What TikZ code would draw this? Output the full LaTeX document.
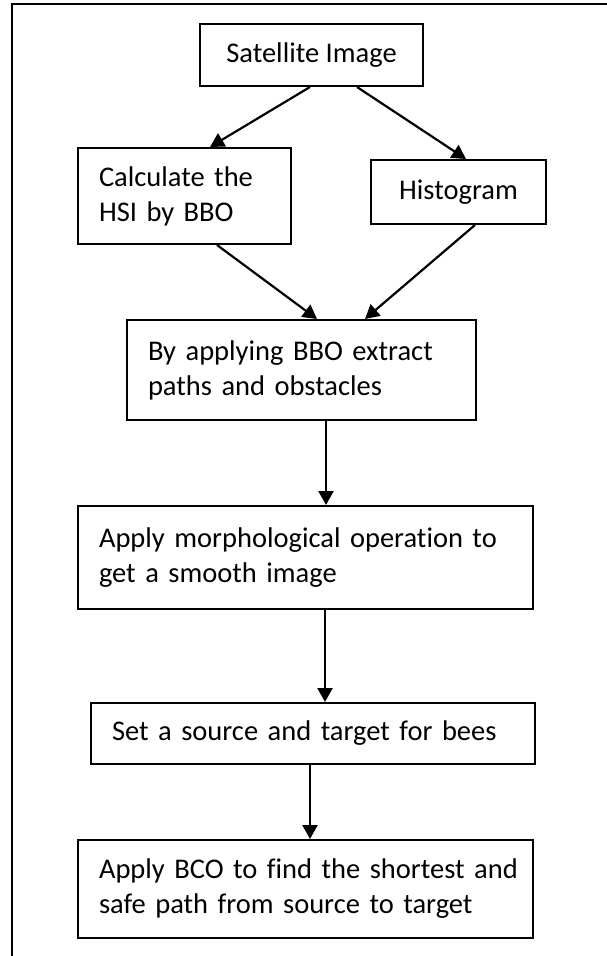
\documentclass[tikz,border=0pt]{standalone}
\usepackage{fontspec}
\setmainfont{Carlito}[Ligatures=NoCommon]
\usetikzlibrary{arrows.meta}
\begin{document}
\begin{tikzpicture}[x=1pt,y=-1pt,
  every node/.style={font=\fontsize{28.5}{35}\selectfont},
  box/.style={draw, line width=2pt, rectangle, inner sep=0pt},
  tbox/.style={box, align=left, inner xsep=21pt, inner ysep=0pt},
  arr/.style={line width=2.2pt, -{Triangle[length=14pt,width=15pt]}},
  frame/.style={line width=2.4pt}]
\useasboundingbox (0,0) rectangle (607,956);
\coordinate (fbl) at (12,956);
\coordinate (ftl) at (12,4);
\coordinate (ftr) at (607,4);
\draw[frame] (fbl) -- (ftl) -- (ftr);

\node[box, minimum width=223pt, minimum height=62pt] (sat) at (311.5,55) {Satellite Image};
\node[tbox, text width=171pt, minimum height=96pt] (calc) at (184.5,196) {\mbox{Calculate the}\\\mbox{HSI by BBO}};
\node[box, minimum width=175pt, minimum height=64pt] (hist) at (458.5,192) {Histogram};
\node[tbox, text width=307pt, minimum height=100pt] (bbo) at (301.5,370) {\mbox{By applying BBO extract}\\\mbox{paths and obstacles}};
\node[tbox, text width=413pt, minimum height=103pt] (morph) at (305.5,557.5) {\mbox{Apply morphological operation to}\\\mbox{get a smooth image}};
\node[tbox, text width=402pt, minimum height=61pt] (set) at (313,733.5) {\mbox{Set a source and target for bees}};
\node[tbox, text width=413pt, minimum height=98pt] (bco) at (305.5,889) {\mbox{Apply BCO to find the shortest and}\\\mbox{safe path from source to target}};

\draw[arr] ([xshift=-1.5pt]sat.south) -- ([xshift=25.5pt]calc.north);
\draw[arr] ([xshift=45.5pt]sat.south) -- ([xshift=7.5pt]hist.north);
\draw[arr] ([xshift=32.5pt]calc.south) -- ([xshift=15.5pt]bbo.north);
\draw[arr] ([xshift=16.5pt]hist.south) -- ([xshift=63.5pt]bbo.north);
\draw[arr] ([xshift=24.5pt]bbo.south) -- ([xshift=20.5pt]morph.north);
\draw[arr] ([xshift=19.5pt]morph.south) -- ([xshift=12pt]set.north);
\draw[arr] ([xshift=-3pt]set.south) -- ([xshift=4.5pt]bco.north);
\end{tikzpicture}
\end{document}
